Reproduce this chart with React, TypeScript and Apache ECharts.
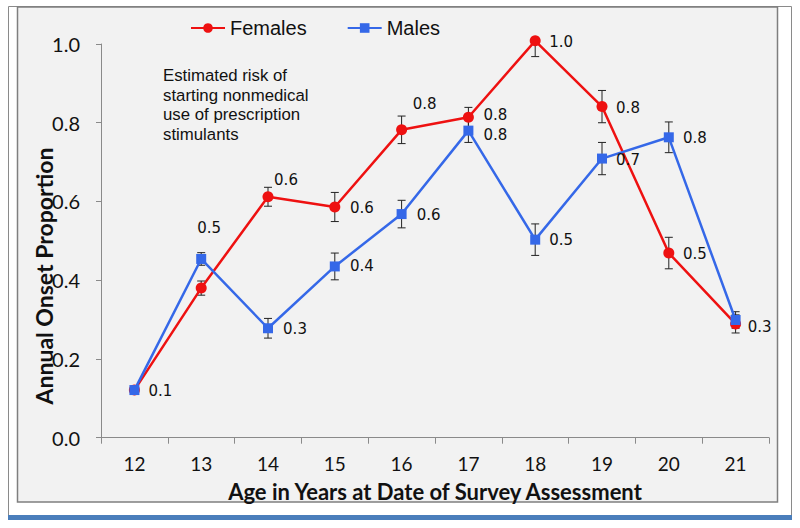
import React, { useEffect, useRef } from 'react';
import * as echarts from 'echarts';

const ages = ['12', '13', '14', '15', '16', '17', '18', '19', '20', '21'];
const females = [0.121, 0.38, 0.612, 0.586, 0.782, 0.814, 1.008, 0.841, 0.469, 0.289];
const males = [0.121, 0.454, 0.278, 0.435, 0.568, 0.78, 0.503, 0.709, 0.763, 0.299];
const femaleErr = [0, 0.018, 0.024, 0.037, 0.035, 0.025, 0.04, 0.041, 0.04, 0.023];
const maleErr = [0, 0.016, 0.025, 0.034, 0.035, 0.03, 0.04, 0.041, 0.039, 0.021];
const noteLines = ['Estimated risk of', 'starting nonmedical', 'use of prescription', 'stimulants'];
const xTitle = 'Age in Years at Date of Survey Assessment';
const yTitle = 'Annual Onset Proportion';

// label placement (styling only): offset of label centre from the marker, null = hidden
const femaleLabelOffset: (number[] | null)[] = [null, null, [18, -17], [27, 1], [23, -26], [27, -2], [26, 1], [26, 1], [26, 1], [24, 3]];
const maleLabelOffset: (number[] | null)[] = [[26, 1], [8, -31], [27, 1], [27, 0], [27, 1], [27, 4], [26, 0], [26, 1], [26, 1], null];

const RED = '#ee1111';
const BLUE = '#3568e8';

function buildData(vals: number[], offs: (number[] | null)[]) {
  return vals.map((v, i) => ({
    value: v,
    label: offs[i]
      ? { show: true, position: 'inside', offset: offs[i], color: '#111', fontFamily: 'DejaVu Sans', fontSize: 15, formatter: (p: any) => Number(p.value).toFixed(1) }
      : { show: false },
  }));
}

function errData(vals: number[], errs: number[]) {
  return vals
    .map((v, i) => [i, v - errs[i], Math.min(v + errs[i], 1), errs[i]])
    .filter((d) => d[3] > 0);
}

function errorRender(params: any, api: any) {
  const x = api.value(0);
  const lo = api.coord([x, api.value(1)]);
  const hi = api.coord([x, api.value(2)]);
  const cap = 4;
  const style = { stroke: '#222', lineWidth: 1 };
  return {
    type: 'group',
    children: [
      { type: 'line', shape: { x1: lo[0], y1: lo[1], x2: hi[0], y2: hi[1] }, style },
      { type: 'line', shape: { x1: lo[0] - cap, y1: lo[1], x2: lo[0] + cap, y2: lo[1] }, style },
      { type: 'line', shape: { x1: hi[0] - cap, y1: hi[1], x2: hi[0] + cap, y2: hi[1] }, style },
    ],
  };
}

export default function App() {
  const ref = useRef<HTMLDivElement>(null);
  useEffect(() => {
    if (!ref.current) return;
    const chart = echarts.init(ref.current, undefined, { renderer: 'svg' });
    chart.setOption({
      animation: false,
      backgroundColor: '#ffffff',
      graphic: [
        { type: 'rect', z: -10, silent: true, shape: { x: 8.5, y: 6.5, width: 783, height: 512 }, style: { fill: '#ffffff', stroke: '#8a8a8a', lineWidth: 1 } },
        { type: 'rect', z: -9, silent: true, shape: { x: 17.5, y: 7, width: 760, height: 495 }, style: { fill: '#f2f2f2', stroke: '#7f7f7f', lineWidth: 1.5 } },
        { type: 'rect', z: -9, silent: true, shape: { x: 8, y: 515, width: 784, height: 5 }, style: { fill: '#4a7ebb' } },
        {
          type: 'text', left: 163, top: 66, silent: true,
          style: { text: noteLines.join('\n'), fontFamily: 'Liberation Sans, Arial', fontSize: 16.8, lineHeight: 19.5, fill: '#111' },
        },
        {
          type: 'text', x: 44, y: 276, rotation: Math.PI / 2, silent: true, z: 10,
          style: { text: yTitle, fontFamily: 'Lato', fontWeight: 'bold', fontSize: 23, fill: '#111', align: 'center', verticalAlign: 'middle' },
        },
        {
          type: 'text', x: 435, y: 491, silent: true, z: 10,
          style: { text: xTitle, fontFamily: 'Lato', fontWeight: 'bold', fontSize: 22, lineHeight: 22, fill: '#111', align: 'center', verticalAlign: 'middle' },
        },
      ],
      legend: {
        data: ['Females', 'Males'],
        left: 185,
        top: 13,
        itemWidth: 34,
        itemHeight: 12,
        itemGap: 40,
        textStyle: { fontFamily: 'Liberation Sans, Arial', fontSize: 20, color: '#111' },
      },
      grid: { left: 101, right: 31, top: 44, bottom: 90.3 },
      xAxis: {
        type: 'category',
        data: ages,
        boundaryGap: true,
        axisLine: { lineStyle: { color: '#8a8a8a', width: 1 } },
        axisTick: { show: true, length: 6, lineStyle: { color: '#8a8a8a' } },
        axisLabel: { margin: 17, fontFamily: 'Lato', fontSize: 19, lineHeight: 18, color: '#111' },
        splitLine: { show: false },
      },
      yAxis: {
        type: 'value',
        min: 0,
        max: 1,
        interval: 0.2,
        axisLine: { show: true, lineStyle: { color: '#8a8a8a', width: 1 } },
        axisTick: { show: true, length: 5, lineStyle: { color: '#8a8a8a' } },
        axisLabel: { margin: 21, fontFamily: 'Lato', fontSize: 20, color: '#111', formatter: (v: number) => v.toFixed(1) },
        splitLine: { show: false },
      },
      series: [
        {
          type: 'custom',
          name: 'femErr',
          renderItem: errorRender,
          data: errData(females, femaleErr),
          z: 1,
          silent: true,
        },
        {
          type: 'custom',
          name: 'maleErr',
          renderItem: errorRender,
          data: errData(males, maleErr),
          z: 1,
          silent: true,
        },
        {
          type: 'line',
          name: 'Females',
          data: buildData(females, femaleLabelOffset),
          symbol: 'circle',
          symbolSize: 11,
          clip: false,
          z: 3,
          lineStyle: { color: RED, width: 2.5 },
          itemStyle: { color: RED },
        },
        {
          type: 'line',
          name: 'Males',
          data: buildData(males, maleLabelOffset),
          symbol: 'rect',
          symbolSize: 10,
          clip: false,
          z: 4,
          lineStyle: { color: BLUE, width: 2.5 },
          itemStyle: { color: BLUE },
        },
      ],
    });
    return () => chart.dispose();
  }, []);
  return <div ref={ref} style={{ position: 'fixed', left: 0, top: 0, width: 800, height: 528 }} />;
}
